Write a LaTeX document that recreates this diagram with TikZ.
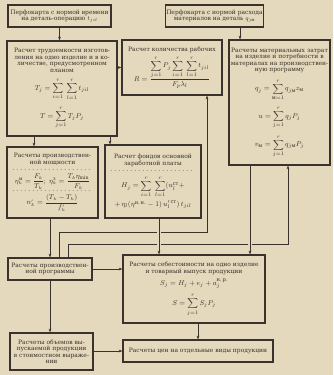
\documentclass[tikz,border=0pt]{standalone}
\usepackage{fontspec}
\setmainfont{DejaVu Serif}
\usepackage{amsmath}
\usetikzlibrary{arrows.meta, calc}
\definecolor{PaperBeige}{HTML}{E4D9BC}
\definecolor{InkBrown}{HTML}{3A332D}
\newcommand{\dotrule}[1]{\hbox to #1{\leaders\hbox to 1.6mm{\hss.\hss}\hfill}}
\newcommand{\formsize}{\fontsize{8.3}{9}\selectfont}
\newcommand{\fracsize}{\fontsize{7.6}{8.4}\selectfont}
\tikzset{
    % boxes with sharp corners
    block/.style={
        rectangle,
        draw=InkBrown,
        fill=PaperBeige,
        line width=1.3pt,
        inner sep=0.5pt,
        align=center,
        text=InkBrown,
        font=\fontsize{6.8}{7.4}\selectfont
    },
    arrow style/.style={
        -{Stealth[length=1.5mm, width=1.1mm]},
        line width=0.7pt,
        InkBrown
    },
    % vertical line that breaks the lines it crosses
    bridge style/.style={
        arrow style,
        preaction={draw=PaperBeige, line width=4pt, arrows=-}
    }
}

\begin{document}
\begin{tikzpicture}[x=0.4mm, y=-0.4mm]
    \fill[PaperBeige] (0,0) rectangle (333,375);

    \node[block, minimum width=41.2mm, minimum height=8.8mm] (card1) at (59.5, 16) {Перфокарта с нормой времени\\на деталь-операцию $t_{jil}$};
    \node[block, minimum width=38.8mm, minimum height=8.8mm] (card2) at (214.5, 16) {Перфокарта с нормой расхода\\материалов на деталь $q_{j\text{м}}$};

    \node[block, minimum width=44mm, minimum height=38mm] (labor) at (62, 88.5) {
        Расчет трудоемкости изготов-\\
        ления на одно изделие и в ко-\\
        личестве, предусмотренном\\
        планом\\[6pt]
        {\formsize$\displaystyle T_j=\sum_{i=1}^{r}\;\sum_{l=1}^{r}t_{jil}$}\\[6pt]
        {\formsize$\displaystyle T=\sum_{j=1}^{r}T_jP_j$}
    };
    \node[block, minimum width=40mm, minimum height=22mm] (workers) at (172, 67.5) {
        Расчет количества рабочих\\[3pt]
        {\formsize$\displaystyle R=\frac{\displaystyle\sum_{j=1}^{r}P_j\sum_{i=1}^{r}\;\sum_{l=1}^{r}t_{jil}}{F_p\lambda_l}$}
    };
    \node[block, minimum width=40.4mm, minimum height=50mm] (mat) at (279.5, 102.5) {
        Расчеты материальных затрат\\
        на изделие и потребности в\\
        материалах на производствен-\\
        ную программу\\[6pt]
        {\formsize$\displaystyle q_j=\sum_{\text{м}=1}^{r}q_{j\text{м}}z_{\text{м}}$}\\[6pt]
        {\formsize$\displaystyle u=\sum_{j=1}^{r}q_jP_j$}\\[6pt]
        {\formsize$\displaystyle v_{\text{м}}=\sum_{j=1}^{r}q_{j\text{м}}P_j$}
    };

    \node[block, minimum width=36.4mm, minimum height=28.4mm] (cap) at (52.5, 182.5) {
        Расчеты производствен-\\
        ной мощности\\
        \dotrule{33mm}\\[2pt]
        {\fracsize$\eta_k^{\text{м}}=\dfrac{F_k}{T_k};\;\eta_k^{\text{з}}=\dfrac{T_k\eta_{\min}}{F_k}$}\\[1pt]
        \dotrule{33mm}\\[2pt]
        {\fracsize$n_k'=\dfrac{(T_k-T_k)}{f_k'}$}
    };
    \node[block, minimum width=38.4mm, minimum height=29.2mm] (wage) at (153, 181.5) {
        Расчет фондов основной\\
        заработной платы\\
        \dotrule{35mm}\\[4pt]
        {\formsize$\displaystyle H_j=\sum_{i=1}^{r}\;\sum_{l=1}^{r}(u_l^{\text{ст}}+$}\\[3pt]
        {\formsize$+\,\eta_l(\eta^{\text{н.\,н.}}-1)\,u_l^{\prime\,\text{ст}})\,t_{jil}$}
    };

    \node[block, minimum width=33.6mm, minimum height=8.8mm] (prog) at (50, 269) {Расчеты производствен-\\ной программы};
    \node[block, minimum width=56.8mm, minimum height=27.2mm] (cost) at (194, 289) {
        Расчеты себестоимости на одно изделие\\
        и товарный выпуск продукции\\[4pt]
        {\formsize$S_j=H_j+e_j+a_j^{\text{н.\,р.}}$}\\[5pt]
        {\formsize$\displaystyle S=\sum_{j=1}^{r}S_jP_j$}
    };
    \node[block, minimum width=33.2mm, minimum height=14.8mm] (vol) at (51.5, 351.5) {Расчеты объемов вы-\\пускаемой продукции\\в стоимостном выраже-\\нии};
    \node[block, minimum width=60mm, minimum height=8.8mm] (price) at (198, 351) {Расчеты цен на отдельные виды продукции};

    \coordinate (wk) at (207, 232);
    \coordinate (mk) at (288, 244);

    \draw[arrow style] (card1) -- (card1 |- labor.north);
    \draw[arrow style] ([xshift=10.2mm]card2.south) -- ([xshift=10.2mm]card2.south |- mat.north);
    \draw[arrow style] (labor.east |- workers) -- (workers.west);
    \draw[arrow style] ([xshift=-11.2mm]labor.south) -- ([xshift=-11.2mm]labor.south |- cap.north);
    \draw[arrow style] ([xshift=19.2mm]labor.south) -- ([xshift=19.2mm]labor.south |- wage.north);
    \draw[arrow style] (cap.south -| prog) -- (prog.north);
    \draw[arrow style] (prog.south) -- (prog.south |- vol.north);
    \draw[arrow style] (vol.east |- price) -- (price.west);
    \draw[arrow style] (cost.south -| price) -- (price.north);
    \draw[arrow style] (prog.east) -- (prog.east -| cost.west);
    \draw[arrow style] ([xshift=3.6mm]prog.north) |- (wk) -- (wk |- workers.south);
    \draw[arrow style] ([xshift=7.2mm]prog.north) |- (mk) -- (mk |- mat.south);
    \draw[bridge style] ([xshift=2.4mm]wage.south) -- ([xshift=2.4mm]wage.south |- cost.north);
    \draw[bridge style] ([xshift=-11.8mm]mat.south) -- ([xshift=-11.8mm]mat.south |- cost.north);
\end{tikzpicture}
\end{document}
